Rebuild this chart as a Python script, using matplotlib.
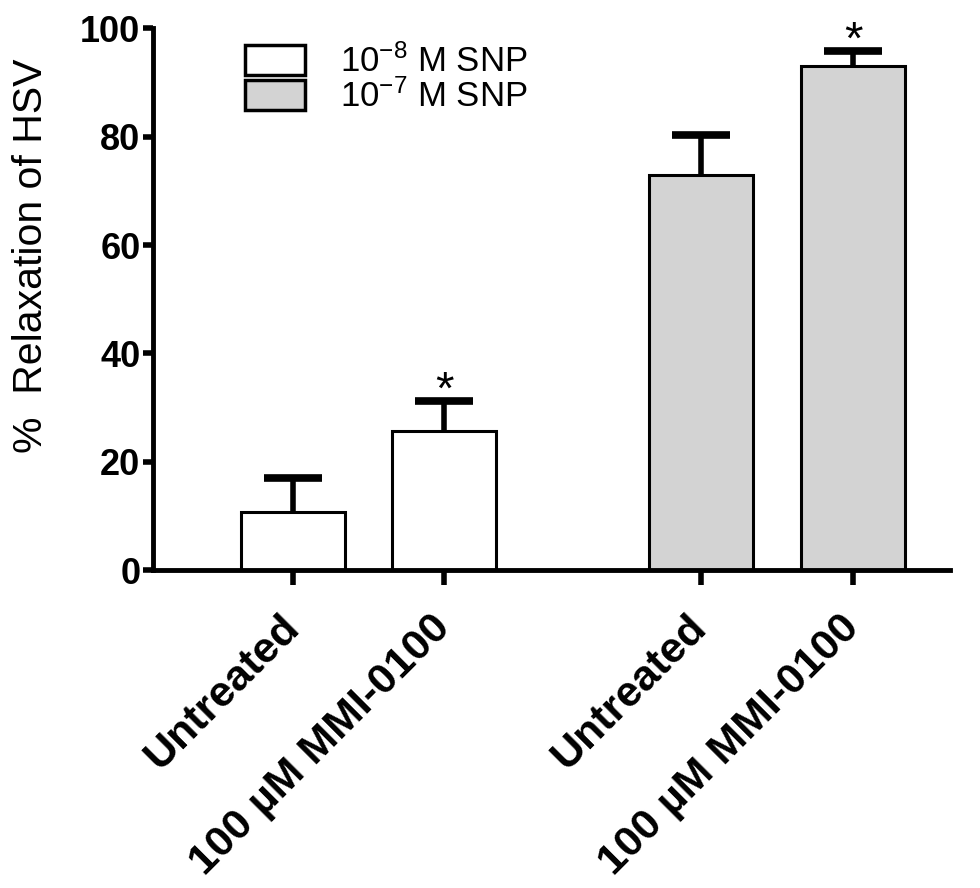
import matplotlib.pyplot as plt
from matplotlib.patches import Patch

plt.rcParams['font.family'] = ['Liberation Sans', 'DejaVu Sans']
plt.rcParams['mathtext.fontset'] = 'custom'
plt.rcParams['mathtext.rm'] = 'Liberation Sans'
plt.rcParams['mathtext.it'] = 'Liberation Sans:italic'
plt.rcParams['mathtext.bf'] = 'Liberation Sans:bold'

labels = ['Untreated', '100 µM MMI-0100', 'Untreated', '100 µM MMI-0100']
means = [10.7, 25.6, 72.9, 93.0]
errs = [6.3, 5.6, 7.5, 2.8]
colors = ['white', 'white', '#d3d3d3', '#d3d3d3']
stars = ['', '*', '', '*']
legend_labels = [r'10$^{-8}$ M SNP', r'10$^{-7}$ M SNP']

x = [0, 1, 2.7, 3.71]

fig = plt.figure(figsize=(9.8, 8.88), dpi=100)
ax = fig.add_axes([0.156, 0.358, 0.813, 0.61])

ax.bar(x, means, width=0.69, color=colors, edgecolor='black', linewidth=2.2, zorder=2)
# only the upper half of each error bar shows; the lower end is hidden in the bar
ax.errorbar(x, means, yerr=[[3] * 4, errs], fmt='none', ecolor='black',
            elinewidth=4, capsize=21, capthick=5.5, zorder=1)
for xi, m, e, s in zip(x, means, errs, stars):
    if s:
        ax.text(xi, m + e + 1.8, s, ha='center', va='center', fontsize=34,
                clip_on=False)

ax.set_xlim(-0.93, 4.35)
ax.set_ylim(0, 100)
ax.set_yticks([0, 20, 40, 60, 80, 100])
ax.set_xticks(x)
ax.set_xticklabels(labels, rotation=45, ha='right', va='center',
                   rotation_mode='anchor', fontsize=31, fontweight='bold')
for t in ax.get_yticklabels():
    t.set_fontweight('bold')
ax.tick_params(axis='y', labelsize=26, width=4, length=7, pad=2)
ax.tick_params(axis='x', width=4, length=11, pad=26)
ax.set_ylabel('%  Relaxation of HSV', fontsize=29.5)
ax.yaxis.set_label_coords(-0.129, 0.58)

for side in ['top', 'right']:
    ax.spines[side].set_visible(False)
for side in ['left', 'bottom']:
    ax.spines[side].set_linewidth(3.5)

handles = [Patch(facecolor='white', edgecolor='black', linewidth=2.5),
           Patch(facecolor='#d3d3d3', edgecolor='black', linewidth=2.5)]
ax.legend(handles, legend_labels, loc='upper left', bbox_to_anchor=(0.076, 1.028),
          frameon=False, fontsize=25, handlelength=1.75, handleheight=0.95,
          handletextpad=1.0, labelspacing=0.0)

fig.savefig('out.png', dpi=100)
